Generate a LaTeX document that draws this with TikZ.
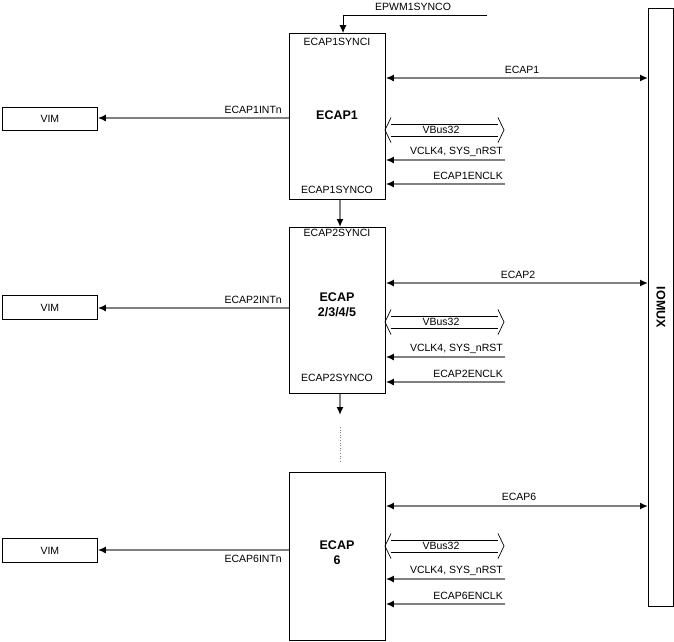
\documentclass[tikz,border=0pt]{standalone}
\usepackage{fontspec}
\setmainfont{Liberation Sans}
\usetikzlibrary{arrows.meta}
\begin{document}
\begin{tikzpicture}[x=1pt,y=-1pt,
  blk/.style={draw=black, line width=0.8pt, minimum width=96pt, inner sep=0, anchor=north west},
  lbl/.style={font=\fontsize{10.5}{12}\selectfont, inner sep=0},
  big/.style={font=\bfseries\fontsize{12.5}{15}\selectfont, inner sep=0, align=center},
  sig/.style={draw=gray, line width=2pt, -{Latex[length=8pt,width=7pt,color=black]}},
  sigd/.style={draw=gray, line width=2pt, {Latex[length=8pt,width=7pt,color=black]}-{Latex[length=8pt,width=7pt,color=black]}},
  thin/.style={draw=black, line width=0.8pt, -{Latex[length=8pt,width=7pt]}},
  vbus/.pic={
    \draw[line width=0.7pt] (6,-12.5) -- (0,0) -- (6,12.5);
    \draw[line width=0.7pt] (6,-6) -- (113,-6) (6,6) -- (113,6);
    \draw[line width=0.7pt] (113,-12.5) -- (119,0) -- (113,12.5);
    \node[font=\fontsize{10.5}{12}\selectfont, inner sep=0] at (56,0) {VBus32};
  }]
\useasboundingbox (0,0) rectangle (674,641);

% IOMUX
\node[draw=black, line width=0.8pt, minimum width=25pt, minimum height=598pt, inner sep=0, anchor=north west] (iomux) at (648,8) {};
\node[big, rotate=-90] (iolbl) at (iomux.center) {IOMUX};

% ---------- ECAP1 ----------
\node[blk, minimum height=166pt] (e1) at (289,33) {};
\node[lbl] (e1i) at (337,42) {ECAP1SYNCI};
\node[big] (e1n) at (337,115) {ECAP1};
\node[lbl] (e1o) at (337,190) {ECAP1SYNCO};

\coordinate (ep) at (487,15);
\node[lbl] (epl) at (413,7) {EPWM1SYNCO};
\draw[thin] (ep) -- (ep -| 343,0) -- (e1.north -| 343,0);

\coordinate (io1) at (648,78);
\draw[sigd] (io1 -| e1.east) -- (io1);
\node[lbl] (l1) at (522,70) {ECAP1};
\pic at (385,130) {vbus};
\coordinate (ck1) at (505,160);
\draw[sig] (ck1) -- (ck1 -| e1.east);
\node[lbl, anchor=east] (ck1l) at (503,152) {VCLK4, SYS\_nRST};
\coordinate (en1) at (505,184);
\draw[sig] (en1) -- (en1 -| e1.east);
\node[lbl, anchor=east] (en1l) at (503,176) {ECAP1ENCLK};

\node[draw=black, line width=0.8pt, minimum width=95pt, minimum height=23pt, inner sep=0, anchor=north west] (v1) at (2,107) {};
\node[lbl] at (v1.center) {VIM};
\draw[sig] (e1.west |- 0,118) -- (v1.east |- 0,118);
\node[lbl, anchor=east] (i1l) at (282,110) {ECAP1INTn};

% ---------- ECAP2 ----------
\node[blk, minimum height=166pt] (e2) at (289,227) {};
\node[lbl] (e2i) at (337,233) {ECAP2SYNCI};
\node[big] (e2n) at (337,305) {ECAP\\2/3/4/5};
\node[lbl] (e2o) at (337,378) {ECAP2SYNCO};

\draw[sig] (e1.south -| 340,0) -- (e2.north -| 340,0);

\coordinate (io2) at (648,283);
\draw[sigd] (io2 -| e2.east) -- (io2);
\node[lbl] (l2) at (518,275) {ECAP2};
\pic at (385,322) {vbus};
\coordinate (ck2) at (505,357);
\draw[sig] (ck2) -- (ck2 -| e2.east);
\node[lbl, anchor=east] (ck2l) at (503,349) {VCLK4, SYS\_nRST};
\coordinate (en2) at (505,382);
\draw[sig] (en2) -- (en2 -| e2.east);
\node[lbl, anchor=east] (en2l) at (503,374) {ECAP2ENCLK};

\node[draw=black, line width=0.8pt, minimum width=95pt, minimum height=24pt, inner sep=0, anchor=north west] (v2) at (2,295) {};
\node[lbl] at (v2.center) {VIM};
\draw[sig] (e2.west |- 0,308) -- (v2.east |- 0,308);
\node[lbl, anchor=east] (i2l) at (282,300) {ECAP2INTn};

\coordinate (dn) at (340,415);
\draw[sig] (e2.south -| dn) -- (dn);
\coordinate (d1) at (340,427);
\coordinate (d2) at (340,462);
\draw[gray, line width=0.6pt, dotted] (d1) -- (d2);

% ---------- ECAP6 ----------
\node[blk, minimum height=168pt] (e6) at (289,472) {};
\node[big] (e6n) at (337,553) {ECAP\\6};

\coordinate (io6) at (648,506);
\draw[sigd] (io6 -| e6.east) -- (io6);
\node[lbl] (l6) at (519,497) {ECAP6};
\pic at (385,546) {vbus};
\coordinate (ck6) at (505,579);
\draw[sig] (ck6) -- (ck6 -| e6.east);
\node[lbl, anchor=east] (ck6l) at (503,571) {VCLK4, SYS\_nRST};
\coordinate (en6) at (505,604);
\draw[sig] (en6) -- (en6 -| e6.east);
\node[lbl, anchor=east] (en6l) at (503,596) {ECAP6ENCLK};

\node[draw=black, line width=0.8pt, minimum width=95pt, minimum height=24pt, inner sep=0, anchor=north west] (v6) at (2,538) {};
\node[lbl] at (v6.center) {VIM};
\draw[sig] (e6.west |- 0,550) -- (v6.east |- 0,550);
\node[lbl, anchor=east] (i6l) at (282,559) {ECAP6INTn};
\end{tikzpicture}
\end{document}
